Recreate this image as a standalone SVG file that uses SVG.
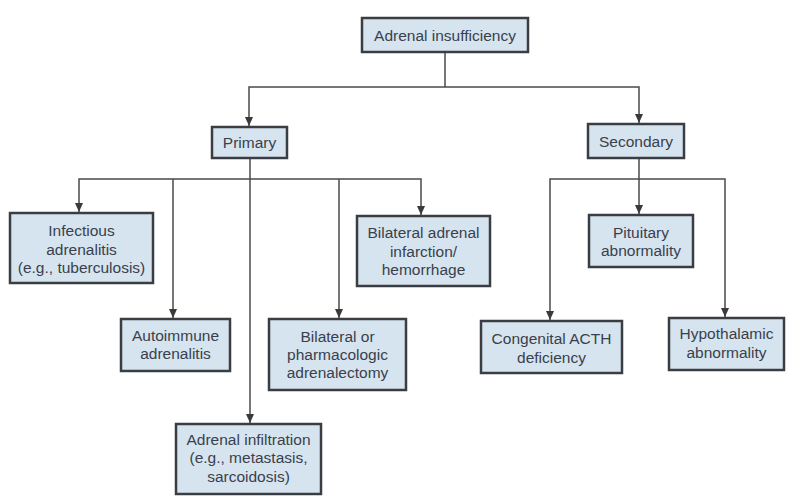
<svg xmlns="http://www.w3.org/2000/svg" width="807" height="499" viewBox="0 0 807 499">
<defs>
<marker id="arr" markerUnits="userSpaceOnUse" markerWidth="9" markerHeight="8" refX="9" refY="4" orient="auto">
<path d="M0,0 L9,4 L0,8 z" fill="#3a3a3a"/>
</marker>
<style>
.box{fill:#d6e4ef;stroke:#3a3d42;stroke-width:2.5}
.t{font-family:"Liberation Sans",Arial,sans-serif;font-size:15.5px;fill:#3a404c;text-anchor:middle}
.c{fill:none;stroke:#4a4a4a;stroke-width:1.5}
</style>
</defs>
<rect width="807" height="499" fill="#ffffff"/>
<g id="connectors">
<path class="c" d="M445,52 V87"/>
<path class="c" d="M445,87 H249 V126" marker-end="url(#arr)"/>
<path class="c" d="M445,87 H639 V123" marker-end="url(#arr)"/>
<path class="c" d="M250,158 V179"/>
<path class="c" d="M250,179 H79 V212" marker-end="url(#arr)"/>
<path class="c" d="M250,179 H421 V215" marker-end="url(#arr)"/>
<path class="c" d="M173,179 V318" marker-end="url(#arr)"/>
<path class="c" d="M250,179 V423" marker-end="url(#arr)"/>
<path class="c" d="M339,179 V318" marker-end="url(#arr)"/>
<path class="c" d="M639,158 V214" marker-end="url(#arr)"/>
<path class="c" d="M639,179 H550 V320" marker-end="url(#arr)"/>
<path class="c" d="M639,179 H725 V317" marker-end="url(#arr)"/>
</g>
<g id="n-adrenal">
<rect class="box" x="362" y="18" width="166" height="34"/>
<text class="t" x="445" y="40.5">Adrenal insufficiency</text>
</g>
<g id="n-primary">
<rect class="box" x="212" y="127" width="75" height="31"/>
<text class="t" x="249.5" y="148">Primary</text>
</g>
<g id="n-secondary">
<rect class="box" x="588" y="124" width="96" height="34"/>
<text class="t" x="636" y="146.5">Secondary</text>
</g>
<g id="n-infectious">
<rect class="box" x="10" y="213" width="143" height="70"/>
<text class="t" x="81.5" y="236">Infectious</text>
<text class="t" x="81.5" y="254.5">adrenalitis</text>
<text class="t" x="81.5" y="273">(e.g., tuberculosis)</text>
</g>
<g id="n-autoimmune">
<rect class="box" x="121" y="319" width="109" height="52"/>
<text class="t" x="175.5" y="341">Autoimmune</text>
<text class="t" x="175.5" y="358.5">adrenalitis</text>
</g>
<g id="n-infiltration">
<rect class="box" x="176" y="424" width="145" height="70"/>
<text class="t" x="248.5" y="444.5">Adrenal infiltration</text>
<text class="t" x="248.5" y="463">(e.g., metastasis,</text>
<text class="t" x="248.5" y="481.5">sarcoidosis)</text>
</g>
<g id="n-bilateral-or">
<rect class="box" x="269" y="319" width="137" height="71"/>
<text class="t" x="337.5" y="341.5">Bilateral or</text>
<text class="t" x="337.5" y="360">pharmacologic</text>
<text class="t" x="337.5" y="378">adrenalectomy</text>
</g>
<g id="n-infarction">
<rect class="box" x="357" y="216" width="133" height="70"/>
<text class="t" x="423.5" y="238">Bilateral adrenal</text>
<text class="t" x="423.5" y="256.5">infarction/</text>
<text class="t" x="423.5" y="275">hemorrhage</text>
</g>
<g id="n-pituitary">
<rect class="box" x="589" y="215" width="104" height="52"/>
<text class="t" x="641" y="237.5">Pituitary</text>
<text class="t" x="641" y="255.5">abnormality</text>
</g>
<g id="n-congenital">
<rect class="box" x="481" y="321" width="141" height="52"/>
<text class="t" x="551.5" y="343.5">Congenital ACTH</text>
<text class="t" x="551.5" y="362.5">deficiency</text>
</g>
<g id="n-hypothalamic">
<rect class="box" x="669" y="318" width="115" height="52"/>
<text class="t" x="726.5" y="338.5">Hypothalamic</text>
<text class="t" x="726.5" y="357.5">abnormality</text>
</g>
</svg>
